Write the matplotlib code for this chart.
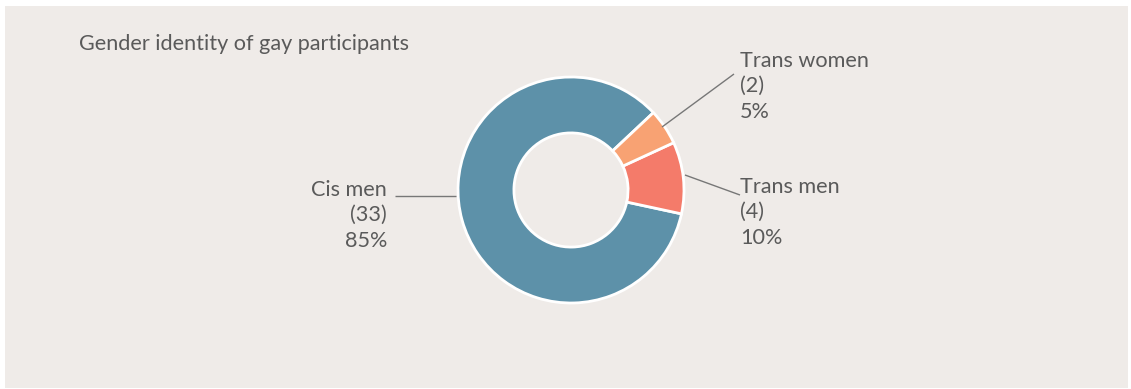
import matplotlib
matplotlib.use("Agg")
import matplotlib.pyplot as plt
from matplotlib.patches import Rectangle

# Data
categories = ["Cis men", "Trans men", "Trans women"]
counts = [33, 4, 2]
percent_labels = ["85%", "10%", "5%"]
title = "Gender identity of gay participants"

colors = ["#5d91a9", "#f47b6a", "#f8a273"]
panel_bg = "#efebe8"
text_color = "#5a5a5a"
line_color = "#777777"

W, H = 1131, 389
fig = plt.figure(figsize=(W / 100, H / 100), dpi=100)
fig.patch.set_facecolor("white")
ax = fig.add_axes([0, 0, 1, 1])

# Background panel
ax.add_patch(Rectangle((5, 1), 1123, 382, facecolor=panel_bg, edgecolor="none", zorder=0))

cx, cy, r = 571, 199, 113
wedges, _ = ax.pie(
    counts,
    colors=colors,
    startangle=43.2,
    counterclock=True,
    center=(cx, cy),
    radius=r,
    wedgeprops=dict(width=r * 0.495, edgecolor="white", linewidth=2),
    frame=True,
)
ax.set_xlim(0, W)
ax.set_ylim(0, H)
ax.set_aspect("equal")
ax.axis("off")

plt.rcParams["font.family"] = ["Lato", "DejaVu Sans"]
fs = 15.6

ax.text(79, H - 44, title, fontsize=fs, color=text_color, va="center", ha="left")

# Leader lines and labels
label_specs = [
    # (anchor point on ring, end of leader line, text position, ha)
    ((456, H - 196), (395, H - 196), (387, H - 180), "right"),
    ((685, H - 175), (740, H - 195), (740, H - 177), "left"),
    ((662, H - 127), (734, H - 74), (740, H - 51), "left"),
]
for cat, n, pct, (p0, p1, tp, ha) in zip(categories, counts, percent_labels, label_specs):
    ax.plot([p0[0], p1[0]], [p0[1], p1[1]], color=line_color, lw=1, solid_capstyle="butt")
    ax.text(tp[0], tp[1], f"{cat}\n({n})\n{pct}", fontsize=fs, color=text_color,
            ha=ha, va="top", linespacing=1.33, multialignment=ha)

fig.savefig("out.png", dpi=100, facecolor=fig.get_facecolor())
